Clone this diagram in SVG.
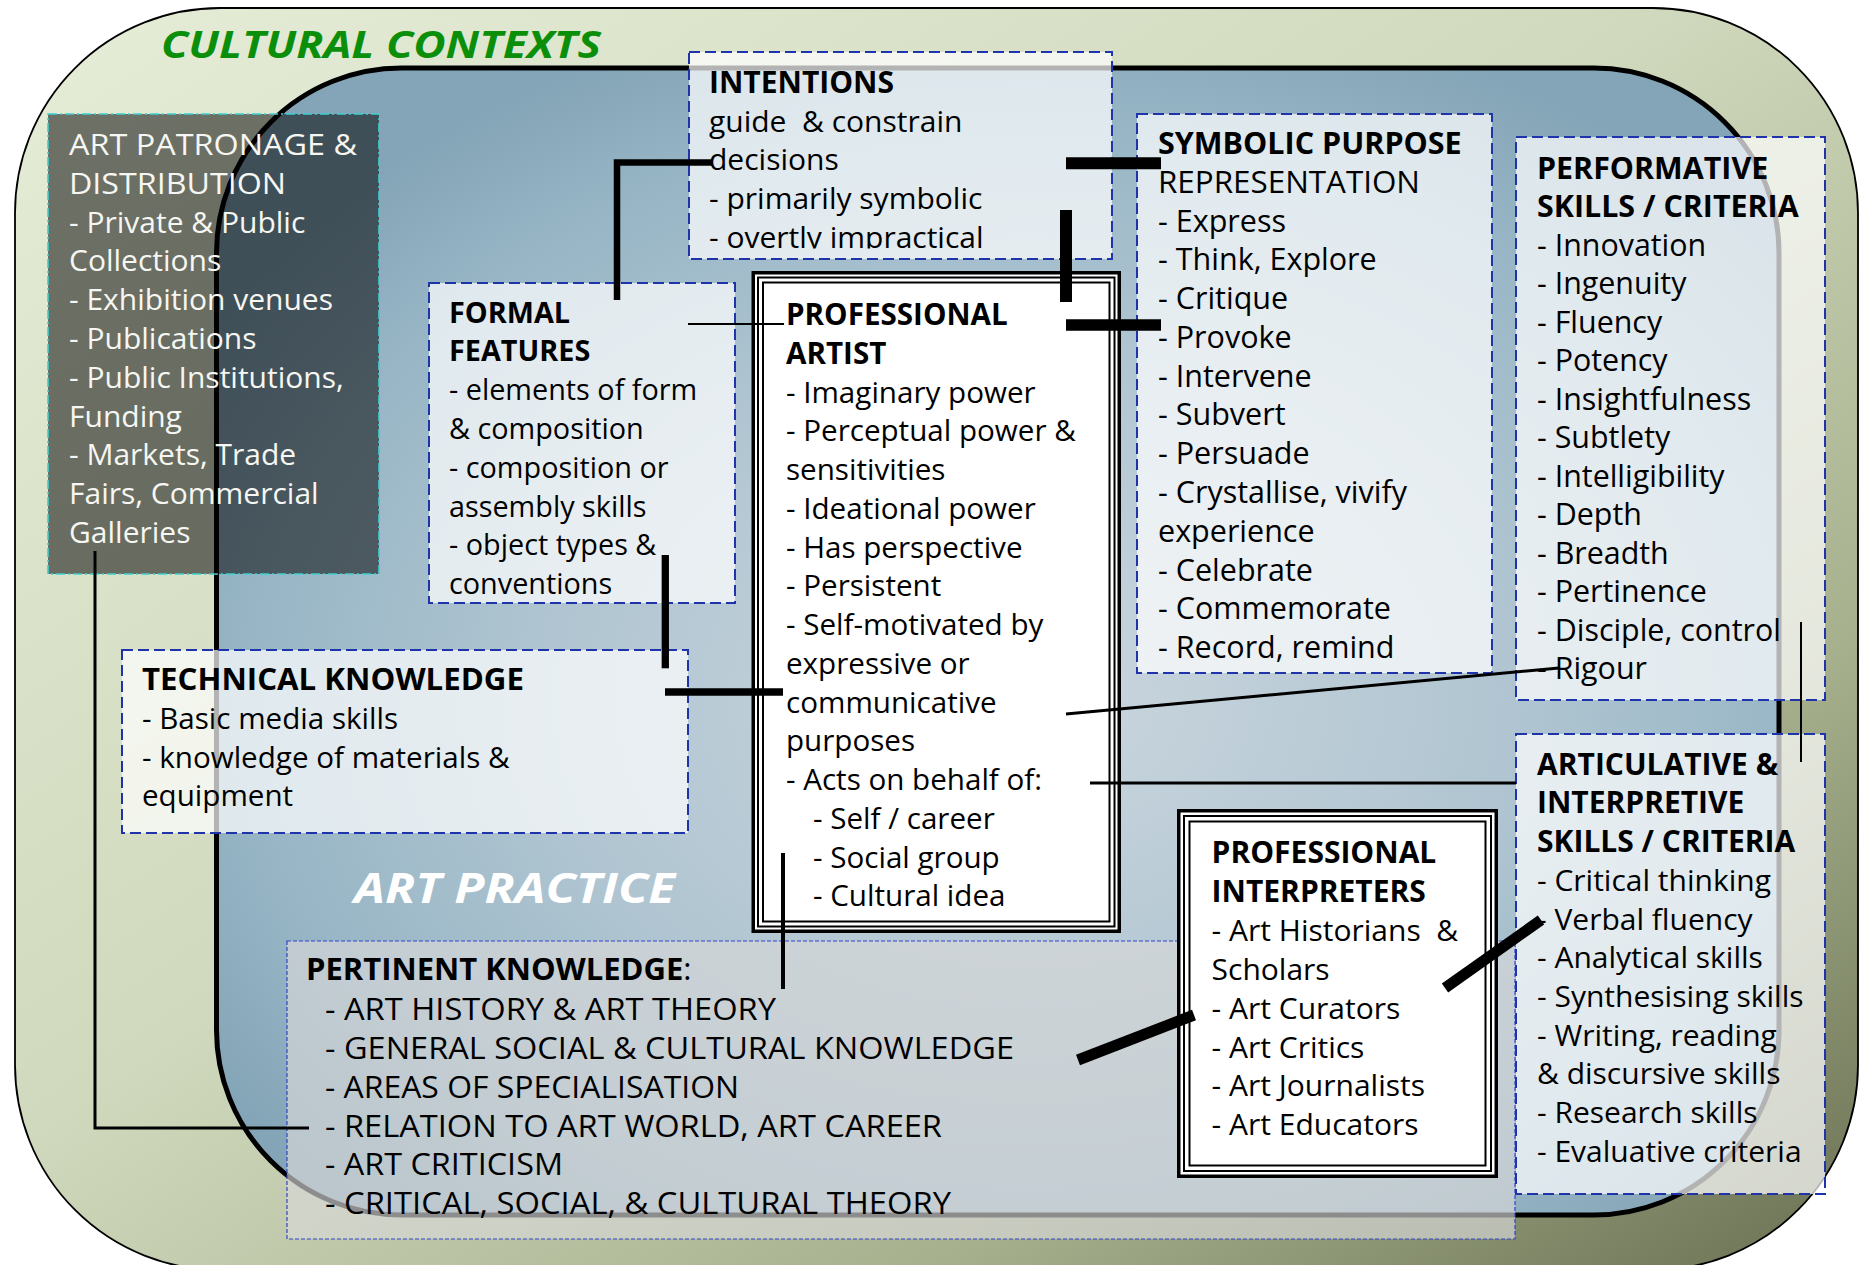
<svg xmlns="http://www.w3.org/2000/svg" width="1862" height="1265" viewBox="0 0 1862 1265">
<defs>
<linearGradient id="gOuter" x1="0" y1="0" x2="1" y2="1">
<stop offset="0" stop-color="#e6edd8"/>
<stop offset="0.45" stop-color="#d0d9bd"/>
<stop offset="0.75" stop-color="#a7b08d"/>
<stop offset="1" stop-color="#687052"/>
</linearGradient>
<radialGradient id="gInner" cx="0.52" cy="0.55" r="0.62">
<stop offset="0" stop-color="#cbd6de"/>
<stop offset="0.5" stop-color="#b0c5d1"/>
<stop offset="0.8" stop-color="#98b6c6"/>
<stop offset="1" stop-color="#84a5b7"/>
</radialGradient>
<clipPath id="clipInt"><rect x="689" y="52" width="423" height="196.5"/></clipPath>
<clipPath id="clipTech"><rect x="122" y="650" width="566" height="172"/></clipPath>
<style>
.box{fill:#ffffff;fill-opacity:0.7;stroke:#1f33aa;stroke-width:2;stroke-dasharray:11 5}
.t{font-family:"Open Sans","Liberation Sans",sans-serif;font-size:30px;fill:#000}
.b{font-weight:700}
.w{fill:#f6f6f2}
.frame{fill:none;stroke:#000;stroke-width:2}
.con{stroke:#000;fill:none}
</style>
</defs>

<g id="background">
<rect x="15" y="8" width="1843" height="1262" rx="205" ry="205" fill="url(#gOuter)" stroke="#000" stroke-width="1.8"/>
<rect x="216.5" y="68" width="1562.5" height="1147" rx="185" ry="185" fill="url(#gInner)" stroke="#000" stroke-width="5"/>
<text x="161" y="57.5" font-family="'Open Sans','Liberation Sans',sans-serif" font-size="38" font-weight="700" font-style="italic" fill="#0b8f0b" textLength="440" lengthAdjust="spacingAndGlyphs">CULTURAL CONTEXTS</text>
<text x="354" y="903" font-family="'Open Sans','Liberation Sans',sans-serif" font-size="42" font-weight="700" font-style="italic" fill="#ffffff" textLength="321" lengthAdjust="spacingAndGlyphs">ART PRACTICE</text>
</g>

<g id="node-patronage">
<rect x="48" y="114" width="331" height="460" fill="#000" fill-opacity="0.52" stroke="#3fcfd0" stroke-width="1.6" stroke-dasharray="9 3 2 3"/>
<g class="t w">
<text x="69" y="155" textLength="288" lengthAdjust="spacingAndGlyphs">ART PATRONAGE &amp;</text>
<text x="69" y="193.8" textLength="217" lengthAdjust="spacingAndGlyphs">DISTRIBUTION</text>
<text x="69" y="232.6">- Private &amp; Public</text>
<text x="69" y="271.4">Collections</text>
<text x="69" y="310.2">- Exhibition venues</text>
<text x="69" y="349">- Publications</text>
<text x="69" y="387.8">- Public Institutions,</text>
<text x="69" y="426.6">Funding</text>
<text x="69" y="465.4">- Markets, Trade</text>
<text x="69" y="504.2">Fairs, Commercial</text>
<text x="69" y="543">Galleries</text>
</g>
</g>

<g id="node-intentions">
<rect class="box" x="689" y="52" width="423" height="207"/>
<g class="t" clip-path="url(#clipInt)">
<text class="b" x="709" y="93">INTENTIONS</text>
<text x="709" y="131.5" xml:space="preserve">guide  &amp; constrain</text>
<text x="709" y="170">decisions</text>
<text x="709" y="209">- primarily symbolic</text>
<text x="709" y="247.5">- overtly impractical</text>
</g>
</g>

<g id="node-formal">
<rect class="box" x="429" y="283" width="306" height="320"/>
<g class="t" style="font-size:28.8px">
<text class="b" x="449" y="322.6">FORMAL</text>
<text class="b" x="449" y="361.4">FEATURES</text>
<text x="449" y="400.2">- elements of form</text>
<text x="449" y="439">&amp; composition</text>
<text x="449" y="477.8">- composition or</text>
<text x="449" y="516.6">assembly skills</text>
<text x="449" y="555.4">- object types &amp;</text>
<text x="449" y="594.2">conventions</text>
</g>
</g>

<g id="node-symbolic">
<rect class="box" x="1137" y="114" width="355" height="559"/>
<g class="t" style="font-size:30.5px">
<text class="b" x="1158" y="154">SYMBOLIC PURPOSE</text>
<text x="1158" y="192.8" textLength="262" lengthAdjust="spacingAndGlyphs">REPRESENTATION</text>
<text x="1158" y="231.5">- Express</text>
<text x="1158" y="270.3">- Think, Explore</text>
<text x="1158" y="309.1">- Critique</text>
<text x="1158" y="347.9">- Provoke</text>
<text x="1158" y="386.6">- Intervene</text>
<text x="1158" y="425.4">- Subvert</text>
<text x="1158" y="464.2">- Persuade</text>
<text x="1158" y="503">- Crystallise, vivify</text>
<text x="1158" y="541.7">experience</text>
<text x="1158" y="580.5">- Celebrate</text>
<text x="1158" y="619.3">- Commemorate</text>
<text x="1158" y="658">- Record, remind</text>
</g>
</g>

<g id="node-performative">
<rect class="box" x="1516" y="137" width="309" height="563"/>
<g class="t" style="font-size:30.4px">
<text class="b" x="1537" y="178.5">PERFORMATIVE</text>
<text class="b" x="1537" y="217">SKILLS / CRITERIA</text>
<text x="1537" y="255.5">- Innovation</text>
<text x="1537" y="294">- Ingenuity</text>
<text x="1537" y="332.5">- Fluency</text>
<text x="1537" y="371">- Potency</text>
<text x="1537" y="409.5">- Insightfulness</text>
<text x="1537" y="448">- Subtlety</text>
<text x="1537" y="486.5">- Intelligibility</text>
<text x="1537" y="525">- Depth</text>
<text x="1537" y="563.5">- Breadth</text>
<text x="1537" y="602">- Pertinence</text>
<text x="1537" y="640.5">- Disciple, control</text>
<text x="1537" y="679">- Rigour</text>
</g>
</g>

<g id="node-technical">
<rect class="box" x="122" y="650" width="566" height="183"/>
<g class="t" style="font-size:29.6px" clip-path="url(#clipTech)">
<text class="b" x="142" y="690" textLength="382" lengthAdjust="spacingAndGlyphs">TECHNICAL KNOWLEDGE</text>
<text x="142" y="728.8">- Basic media skills</text>
<text x="142" y="767.6">- knowledge of materials &amp;</text>
<text x="142" y="806.4">equipment</text>
</g>
</g>

<g id="node-artist">
<rect x="753.25" y="272.75" width="366" height="658.5" fill="#fff" stroke="#000" stroke-width="3.5"/>
<rect class="frame" x="758" y="277.5" width="356.5" height="649"/>
<rect class="frame" x="763" y="282.5" width="346.5" height="639"/>
<g class="t" style="font-size:29.6px">
<text class="b" x="786" y="325">PROFESSIONAL</text>
<text class="b" x="786" y="363.75">ARTIST</text>
<text x="786" y="402.5">- Imaginary power</text>
<text x="786" y="441.25">- Perceptual power &amp;</text>
<text x="786" y="480">sensitivities</text>
<text x="786" y="518.75">- Ideational power</text>
<text x="786" y="557.5">- Has perspective</text>
<text x="786" y="596.25">- Persistent</text>
<text x="786" y="635">- Self-motivated by</text>
<text x="786" y="673.75">expressive or</text>
<text x="786" y="712.5">communicative</text>
<text x="786" y="751.25">purposes</text>
<text x="786" y="790">- Acts on behalf of:</text>
<text x="813" y="828.75">- Self / career</text>
<text x="813" y="867.5">- Social group</text>
<text x="813" y="906.25">- Cultural idea</text>
</g>
</g>

<g id="node-pertinent">
<rect x="287" y="941" width="1228" height="298" fill="#d8d8d8" fill-opacity="0.65" stroke="#3344cc" stroke-width="1.2" stroke-dasharray="4 2"/>
<g class="t" style="font-size:31.5px">
<text x="306" y="979.5" style="font-size:31px"><tspan class="b">PERTINENT KNOWLEDGE</tspan>:</text>
<text x="325" y="1019.8" textLength="451" lengthAdjust="spacingAndGlyphs">- ART HISTORY &amp; ART THEORY</text>
<text x="325" y="1058.7" textLength="689" lengthAdjust="spacingAndGlyphs">- GENERAL SOCIAL &amp; CULTURAL KNOWLEDGE</text>
<text x="325" y="1097.6" textLength="414" lengthAdjust="spacingAndGlyphs">- AREAS OF SPECIALISATION</text>
<text x="325" y="1136.5" textLength="617" lengthAdjust="spacingAndGlyphs">- RELATION TO ART WORLD, ART CAREER</text>
<text x="325" y="1175.4" textLength="238" lengthAdjust="spacingAndGlyphs">- ART CRITICISM</text>
<text x="325" y="1214.3" textLength="626" lengthAdjust="spacingAndGlyphs">- CRITICAL, SOCIAL, &amp; CULTURAL THEORY</text>
</g>
</g>

<g id="node-interpreters">
<rect x="1178.75" y="810.75" width="317.5" height="365.5" fill="#fff" stroke="#000" stroke-width="3.5"/>
<rect class="frame" x="1184" y="816" width="307" height="355"/>
<rect class="frame" x="1189.5" y="821.5" width="296" height="344"/>
<g class="t">
<text class="b" x="1211.6" y="863">PROFESSIONAL</text>
<text class="b" x="1211.6" y="901.9">INTERPRETERS</text>
<text x="1211.6" y="940.8" xml:space="preserve">- Art Historians  &amp;</text>
<text x="1211.6" y="979.7">Scholars</text>
<text x="1211.6" y="1018.6">- Art Curators</text>
<text x="1211.6" y="1057.5">- Art Critics</text>
<text x="1211.6" y="1096.4">- Art Journalists</text>
<text x="1211.6" y="1135.3">- Art Educators</text>
</g>
</g>

<g id="node-articulative">
<rect class="box" x="1516" y="734" width="309" height="460"/>
<g class="t">
<text class="b" x="1537" y="774.7">ARTICULATIVE &amp;</text>
<text class="b" x="1537" y="813.4">INTERPRETIVE</text>
<text class="b" x="1537" y="852.1">SKILLS / CRITERIA</text>
<text x="1537" y="890.8">- Critical thinking</text>
<text x="1537" y="929.5">- Verbal fluency</text>
<text x="1537" y="968.2">- Analytical skills</text>
<text x="1537" y="1006.9">- Synthesising skills</text>
<text x="1537" y="1045.6">- Writing, reading</text>
<text x="1537" y="1084.3">&amp; discursive skills</text>
<text x="1537" y="1123">- Research skills</text>
<text x="1537" y="1161.7">- Evaluative criteria</text>
</g>
</g>

<g id="connectors" class="con">
<polyline points="95,551 95,1128 309,1128" stroke-width="3"/>
<polyline points="617,300 617,162.5 712,162.5" stroke-width="6.5"/>
<line x1="688" y1="324" x2="784" y2="324" stroke-width="2"/>
<line x1="1066" y1="163.3" x2="1161" y2="163.3" stroke-width="12"/>
<line x1="1066" y1="210" x2="1066" y2="302" stroke-width="12"/>
<line x1="1066" y1="325" x2="1161" y2="325" stroke-width="11.5"/>
<line x1="665.3" y1="555" x2="665.3" y2="668.3" stroke-width="7.3"/>
<line x1="665" y1="692" x2="783" y2="692" stroke-width="7.7"/>
<line x1="783" y1="853" x2="783" y2="989" stroke-width="4"/>
<line x1="1066" y1="714" x2="1559" y2="668" stroke-width="3"/>
<line x1="1090" y1="783" x2="1516" y2="783" stroke-width="3"/>
<line x1="1078" y1="1060" x2="1194" y2="1015" stroke-width="11"/>
<line x1="1445" y1="988" x2="1541" y2="920" stroke-width="11"/>
<line x1="1801" y1="622" x2="1801" y2="762" stroke-width="2"/>
</g>
</svg>
